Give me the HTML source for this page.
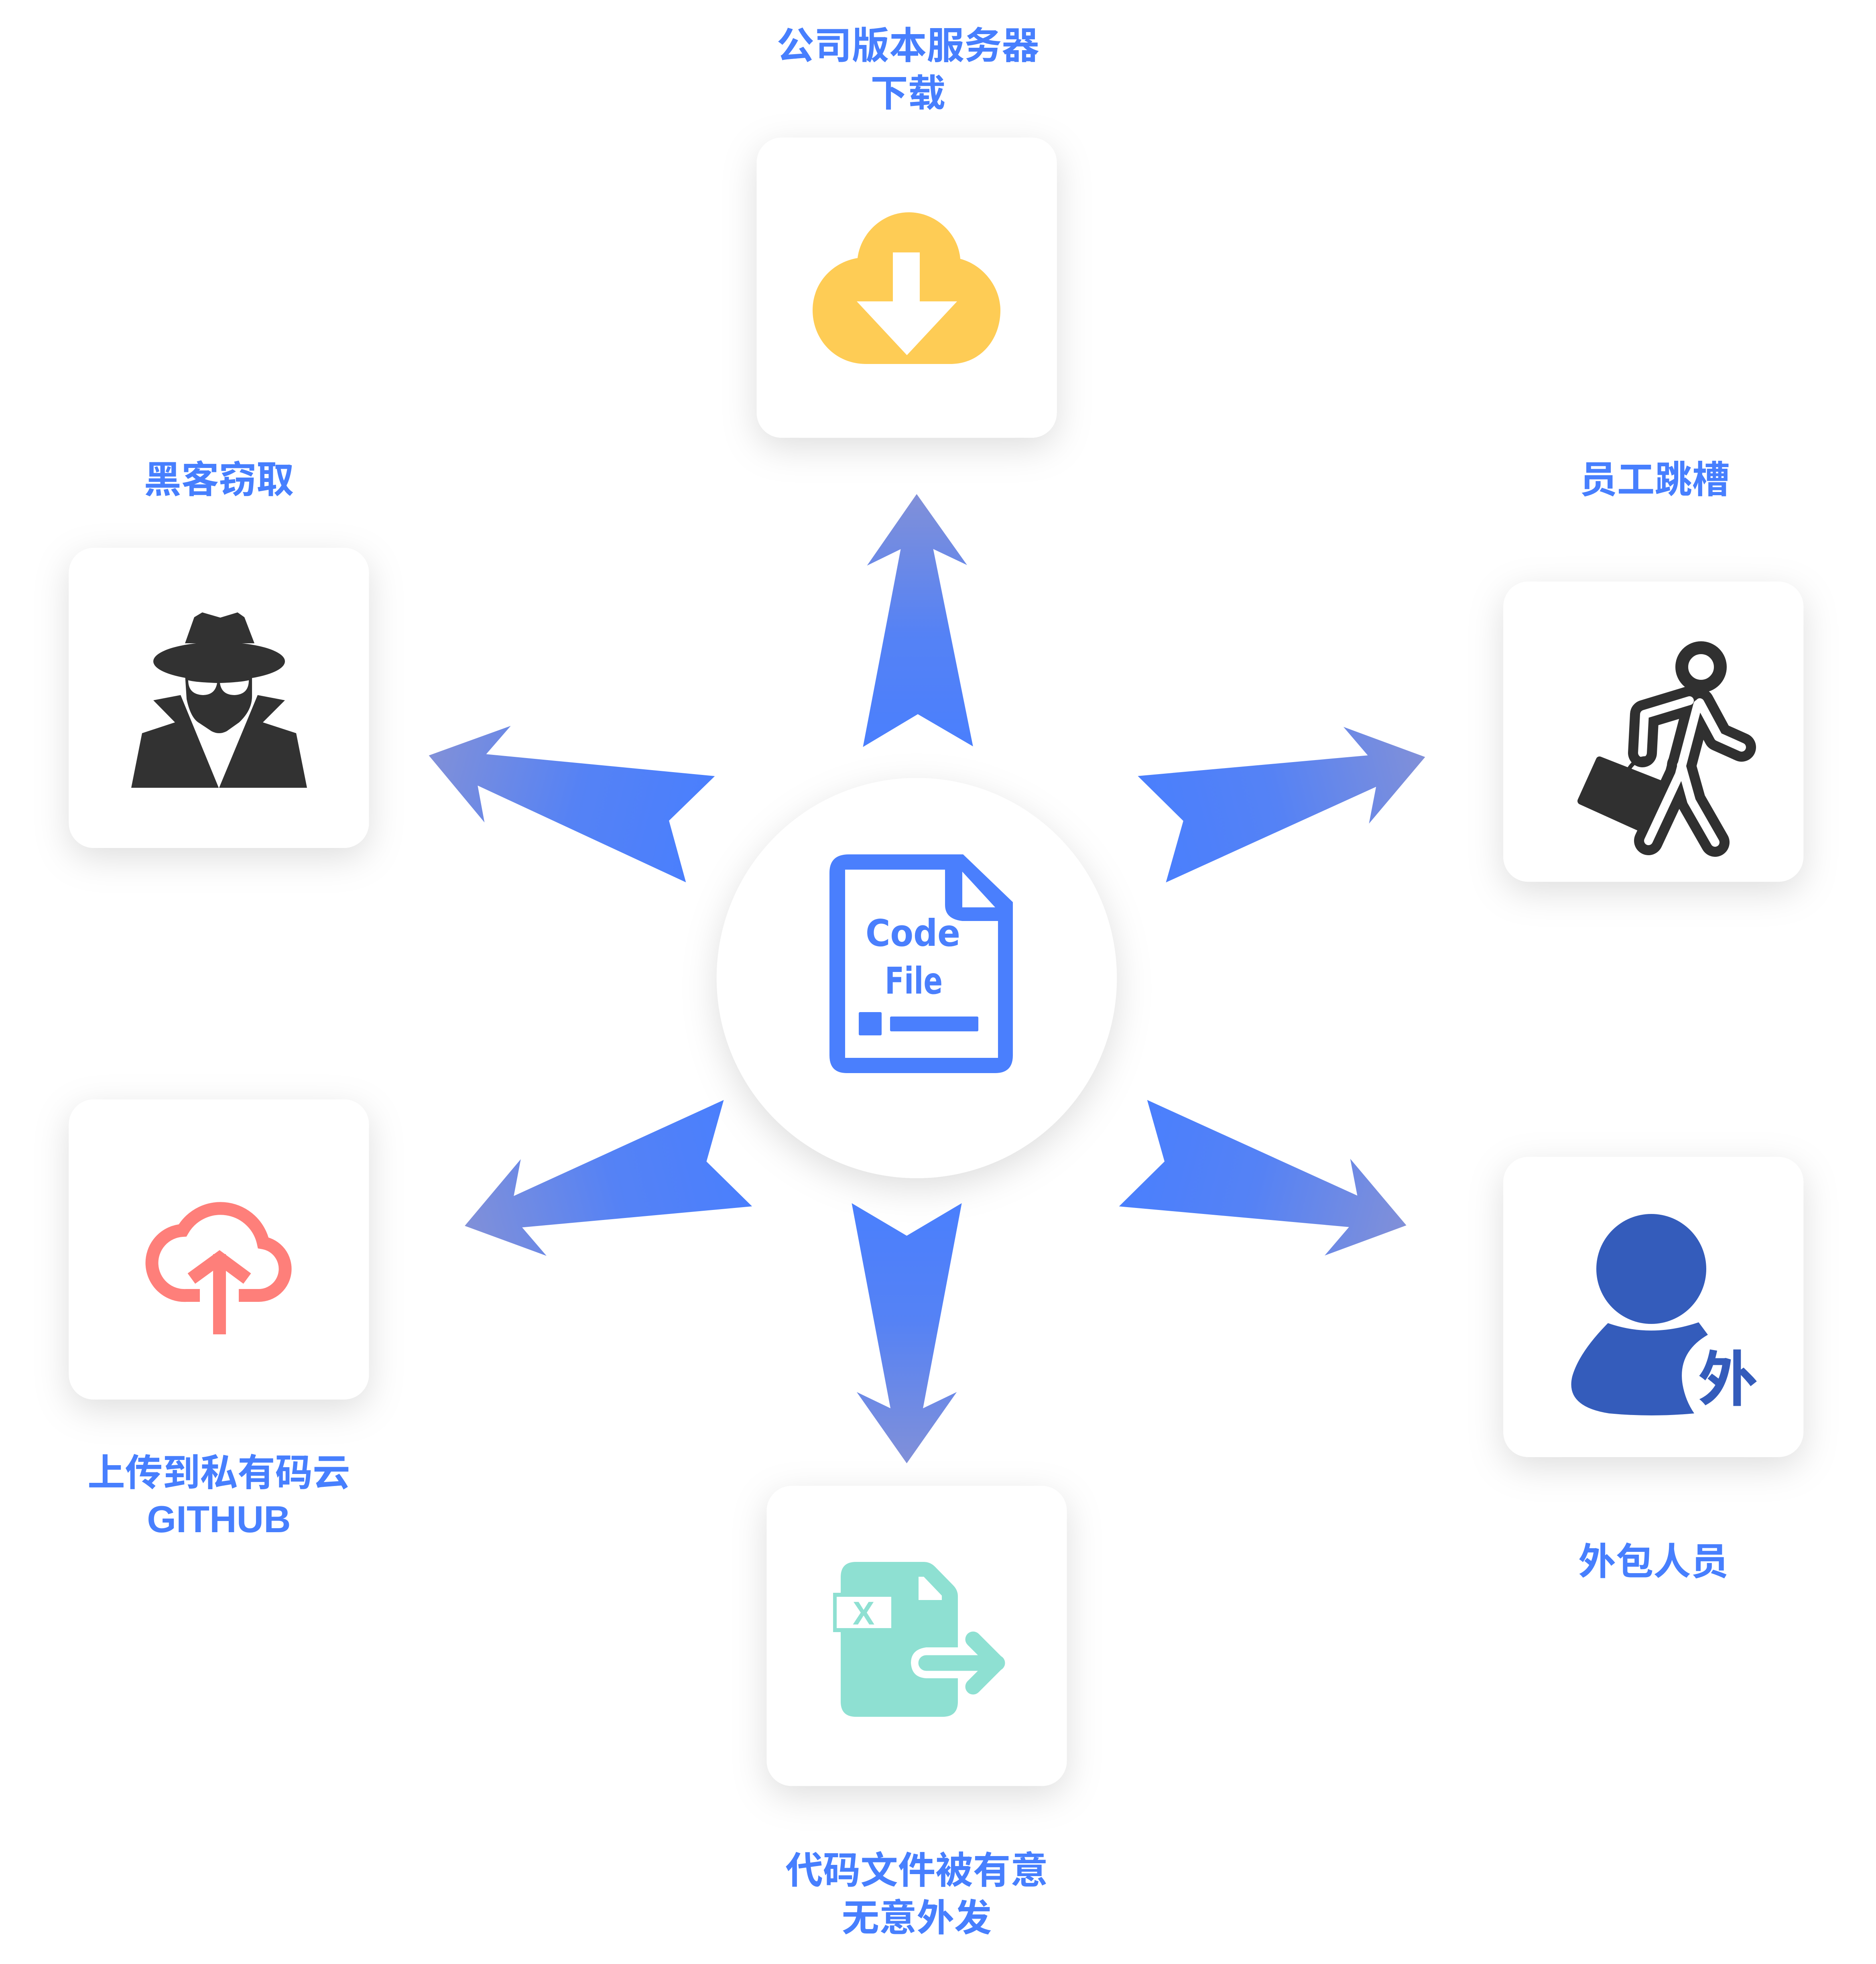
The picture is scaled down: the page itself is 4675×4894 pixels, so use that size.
<!DOCTYPE html>
<html><head><meta charset="utf-8"><style>
html,body{margin:0;padding:0;background:#fff;}
svg{display:block;}
.lb{font-family:"Liberation Sans","Noto Sans CJK SC",sans-serif;font-weight:bold;font-size:30px;fill:#477ffe;text-anchor:middle;}
</style></head><body>
<svg width="4675" height="4894" viewBox="0 0 1500 1570.3" xmlns="http://www.w3.org/2000/svg">
<defs>
<filter id="sh" x="-30%" y="-30%" width="160%" height="170%">
<feDropShadow dx="0" dy="8" stdDeviation="14" flood-color="#000" flood-opacity="0.13"/>
</filter>
<linearGradient id="ag" x1="0" y1="0" x2="1" y2="0">
<stop offset="0" stop-color="#4a7ffd"/>
<stop offset="0.45" stop-color="#5582f5"/>
<stop offset="1" stop-color="#8190d8"/>
</linearGradient>
</defs>
<rect width="1500" height="1571" fill="#fff"/>

<g fill="#fff" filter="url(#sh)">
<rect x="605" y="110" width="240" height="240" rx="20"/>
<rect x="55" y="438" width="240" height="240" rx="20"/>
<rect x="1202" y="465" width="240" height="240" rx="20"/>
<rect x="55" y="879" width="240" height="240" rx="20"/>
<rect x="1202" y="925" width="240" height="240" rx="20"/>
<rect x="613" y="1188" width="240" height="240" rx="20"/>
<circle cx="733" cy="782" r="160"/>
</g>

<g fill="url(#ag)">
<g transform="translate(734,597) rotate(-90.3)"><polygon points="202,0 145,-40 158,-13 0,-44 26,0 0,44 158,13 145,40"/></g>
<g transform="translate(921,663) rotate(-14.8)"><polygon points="226,0 169,-40 182,-13 0,-44 26,0 0,44 182,13 169,40"/></g>
<g transform="translate(560,663) rotate(195.2)"><polygon points="225,0 168,-40 181,-13 0,-44 26,0 0,44 181,13 168,40"/></g>
<g transform="translate(590,922) rotate(165.1)"><polygon points="226,0 169,-40 182,-13 0,-44 26,0 0,44 182,13 169,40"/></g>
<g transform="translate(906,922) rotate(14.8)"><polygon points="226,0 169,-40 182,-13 0,-44 26,0 0,44 182,13 169,40"/></g>
<g transform="translate(725,962) rotate(90)"><polygon points="208,0 151,-40 164,-13 0,-44 26,0 0,44 164,13 151,40"/></g>
</g>

<g transform="scale(0.32086)">
<path d="M2067,2175 Q2067,2129 2115,2129 L2400,2129 L2524,2248 L2524,2630 Q2524,2674 2480,2674 L2110,2674 Q2067,2674 2067,2630 Z M2106,2167 L2106,2636 L2487,2636 L2487,2295 L2398,2295 Q2355,2290 2355,2255 L2355,2167 Z M2398,2172 L2398,2261 L2480,2261 Z" fill="#4a7ffd" fill-rule="evenodd"/>
<text x="2157" y="2357" font-family="'DejaVu Sans','Liberation Sans',sans-serif" font-weight="bold" font-size="92" fill="#4a7ffd" textLength="236" lengthAdjust="spacingAndGlyphs">Code</text>
<text x="2205" y="2476" font-family="'DejaVu Sans','Liberation Sans',sans-serif" font-weight="bold" font-size="92" fill="#4a7ffd" textLength="144" lengthAdjust="spacingAndGlyphs">File</text>
<rect x="2140" y="2522" width="57" height="58" rx="3" fill="#4a7ffd"/>
<rect x="2218" y="2533" width="220" height="37" rx="3" fill="#4a7ffd"/>

<path d="M2158,907 C2080,907 2025,845 2025,773 C2025,705 2075,653 2137,643 C2145,580 2200,529 2265,529 C2330,529 2388,580 2393,645 C2450,660 2493,715 2493,773 C2493,845 2445,905 2372,907 Z" fill="#fecc55"/>
<polygon points="2225,629 2292,629 2292,751 2385,751 2260,885 2135,751 2225,751" fill="#fff"/>

<g fill="#323232">
<polygon points="461,1603 484,1538 504,1526 549,1539 592,1526 609,1538 634,1603"/>
<ellipse cx="546" cy="1648" rx="164" ry="48"/>
<path d="M461,1680 L465,1742 Q475,1790 497,1802 L527,1822 Q546,1832 565,1822 L596,1800 Q628,1770 628,1735 L628,1680 Z"/>
<polygon points="450,1732 382,1745 436,1800 354,1827 327,1963 545,1963"/>
<polygon points="642,1732 710,1745 655,1800 738,1827 765,1963 546,1963"/>
</g>
<path d="M469,1695 Q485,1700 541,1702 Q536,1732 505,1732 Q469,1730 469,1695 Z" fill="#fff"/>
<path d="M548,1702 Q600,1700 620,1695 Q620,1730 585,1732 Q552,1732 548,1702 Z" fill="#fff"/>

<g fill="none" stroke="#303030" stroke-linecap="round" stroke-linejoin="round">
<circle cx="4239" cy="1662" r="48" stroke-width="32" fill="#fff"/>
<g stroke-width="72">
<polyline points="4210,1746 4098,1780 4093,1876"/>
<polyline points="4236,1751 4282,1836 4340,1862"/>
<polyline points="4231,1755 4185,1930 4108,2095"/>
<polyline points="4190,1907 4215,1996 4274,2099"/>
</g>
</g>
<g fill="none" stroke="#fff" stroke-linecap="round" stroke-linejoin="round" stroke-width="22">
<polyline points="4210,1746 4098,1780 4093,1876"/>
<polyline points="4236,1751 4282,1836 4340,1862"/>
<polyline points="4231,1755 4185,1930 4108,2095"/>
<polyline points="4190,1907 4215,1996 4274,2099"/>
</g>
<path d="M4060,1915 Q4080,1885 4110,1890" fill="none" stroke="#303030" stroke-width="10"/>
<polygon points="3940,1996 3986,1894 4144,1956 4088,2063" fill="#303030" stroke="#303030" stroke-width="18" stroke-linejoin="round"/>

<g fill="none" stroke="#fe7f7a" stroke-width="32">
<path d="M498,3228 L464,3228 A81,81 0 0 1 455,3066 A109,109 0 0 1 656,3097 A66,66 0 0 1 644,3228 L595,3228"/>
<line x1="547" y1="3325" x2="547" y2="3125"/>
<polyline points="477,3186 547,3135 616,3186" stroke-linejoin="miter"/>
</g>

<g fill="#345cbb">
<ellipse cx="4115" cy="3162" rx="137" ry="137"/>
<path d="M4007,3297 Q4115,3335 4233,3295 L4256,3326 Q4180,3370 4193,3450 Q4200,3490 4222,3522 Q4115,3532 4010,3522 Q3900,3505 3918,3430 Q3935,3370 4007,3297 Z"/>
<text x="4306" y="3490" font-family="'Liberation Sans','Noto Sans CJK SC',sans-serif" font-weight="bold" font-size="150" text-anchor="middle">外</text>
</g>

<g fill="#8ee0d2">
<path d="M2095,3930 Q2095,3892 2133,3892 L2302,3892 Q2318,3892 2330,3904 L2375,3950 Q2387,3962 2387,3978 L2387,4105 L2308,4105 Q2270,4110 2270,4144 Q2272,4180 2308,4182 L2387,4182 L2387,4240 Q2387,4278 2349,4278 L2133,4278 Q2095,4278 2095,4240 Z"/>
<rect x="2076" y="3969" width="146" height="98"/>
</g>
<polygon points="2289,3929 2302,3929 2347,3976 2347,3987 2289,3987" fill="#fff"/>
<rect x="2085" y="3979" width="136" height="78" fill="#fff"/>
<text x="2152" y="4048" font-family="'Liberation Sans',sans-serif" font-weight="bold" font-size="82" fill="#8ee0d2" text-anchor="middle">X</text>
<g fill="none" stroke="#8ee0d2" stroke-width="39" stroke-linecap="round" stroke-linejoin="round">
<line x1="2308" y1="4144" x2="2485" y2="4144"/>
<polyline points="2425,4085 2484,4144 2425,4203"/>
</g>
</g>

<text class="lb" x="726" y="47">公司版本服务器</text>
<text class="lb" x="726" y="85">下载</text>
<text class="lb" x="175" y="394">黑客窃取</text>
<text class="lb" x="1323" y="394">员工跳槽</text>
<text class="lb" x="175" y="1188">上传到私有码云</text>
<text class="lb" x="175" y="1225">GITHUB</text>
<text class="lb" x="1322" y="1259">外包人员</text>
<text class="lb" x="733" y="1506">代码文件被有意</text>
<text class="lb" x="733" y="1544">无意外发</text>
</svg>
</body></html>
